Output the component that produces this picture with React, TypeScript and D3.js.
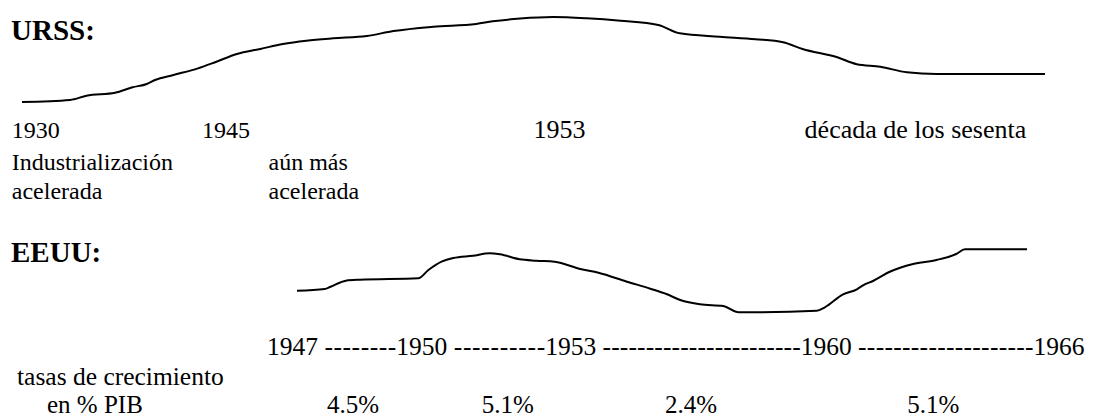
import * as d3 from "d3";
import React, { useEffect, useRef } from "react";

// URSS sketch: t = horizontal position along the period (0..100), v = growth level (0..100)
const urssT = [0, 4.7, 6.3, 9.1, 10.8, 12.2, 13.0, 14.8, 17.2, 19.0, 21.0, 23.3, 25.5, 27.8, 30.4, 33.7, 36.3, 40.2, 44.4, 46.0, 48.7, 51.9, 55.2, 58.5, 62.2, 64.3, 68.2, 71.7, 74.4, 76.3, 79.7, 81.6, 83.9, 86.5, 89.4, 100];
const urssV = [0, 2.4, 7.4, 10.9, 17.3, 21.2, 25.9, 31.8, 39.6, 47.4, 56.5, 62.4, 68.2, 72.1, 74.9, 77.6, 83.5, 88.6, 91.8, 94.9, 98.2, 100, 98.5, 95.6, 90.6, 80.8, 76.8, 73.8, 70.2, 62.4, 52.6, 44.4, 41.5, 34.9, 32.9, 32.9];

// EEUU sketch
const eeuuT = [0, 3.8, 4.6, 6.7, 8.6, 16.6, 18.0, 19.8, 21.4, 24.1, 26.4, 27.8, 30.5, 32.8, 35.3, 38.8, 41.3, 45.2, 48.4, 50.6, 52.5, 55.2, 58.4, 60.5, 71.2, 72.3, 74.8, 76.7, 77.6, 78.9, 81.2, 84.4, 87.6, 90.3, 91.5, 100];
const eeuuV = [34.3, 37.0, 40.6, 50.2, 51.7, 54.0, 67.1, 80.3, 86.2, 89.8, 93.7, 92.1, 84.1, 81.9, 80.3, 68.7, 62.9, 48.6, 37.5, 29.0, 19.5, 12.7, 10.0, 0, 2.5, 7.9, 28.6, 36.5, 43.3, 49.7, 64.4, 76.7, 83.0, 92.5, 100, 100];

// labels under the URSS curve (position in the same t units)
const urssLabels = ["1930", "1945", "1953", "década de los sesenta"];
const urssLabelT = [-1.0, 17.6, 50.0, 76.5];
const urssNotes = [["Industrialización", "acelerada"], ["aún más", "acelerada"]];
const urssNoteT = [-1.0, 24.1];

// EEUU time line and growth rates
const eeuuYears = ["1947", "1950", "1953", "1960", "1966"];
const eeuuYearT = [-4.1, 13.6, 34.0, 69.0, 100.9];
const eeuuDashes = [8, 10, 23, 20];
const growthRates = ["4.5%", "5.1%", "2.4%", "5.1%"];
const growthT = [4.1, 25.3, 50.4, 83.6];

const W = 1093;
const H = 419;
const FONT = "'Liberation Serif', 'Times New Roman', Times, serif";

const App: React.FC = () => {
    const svgRef = useRef<SVGSVGElement>(null);

    useEffect(() => {
        const svg = d3.select(svgRef.current);
        svg.selectAll("*").remove();

        const xU = d3.scaleLinear().domain([0, 100]).range([22, 1045]);
        const yU = d3.scaleLinear().domain([0, 100]).range([102, 17]);
        const xE = d3.scaleLinear().domain([0, 100]).range([297, 1027]);
        const yE = d3.scaleLinear().domain([0, 100]).range([312.3, 249.3]);

        const drawCurve = (ts: number[], vs: number[], x: any, y: any) => {
            const line = d3.line<number>()
                .x((_, i) => x(ts[i]))
                .y(v => y(v))
                .curve(d3.curveMonotoneX);
            svg.append("path")
                .attr("d", line(vs))
                .attr("fill", "none")
                .attr("stroke", "#000")
                .attr("stroke-width", 2)
                .attr("stroke-linejoin", "round");
        };

        const label = (txt: string, x: number, y: number, size: number, bold = false) =>
            svg.append("text")
                .attr("x", x)
                .attr("y", y)
                .attr("font-family", FONT)
                .attr("font-size", size)
                .attr("font-weight", bold ? "bold" : "normal")
                .attr("fill", "#000")
                .text(txt);

        // URSS
        label("URSS:", 11, 39.5, 29, true);
        drawCurve(urssT, urssV, xU, yU);
        urssLabels.forEach((l, i) => label(l, xU(urssLabelT[i]), 138, i < 2 ? 24 : 26));
        urssNotes.forEach((lines, i) => {
            lines.forEach((l, j) => label(l, xU(urssNoteT[i]), 170 + j * 29, 24));
        });

        // EEUU
        label("EEUU:", 11, 262, 29, true);
        drawCurve(eeuuT, eeuuV, xE, yE);

        eeuuYears.forEach((yr, i) => {
            const x0 = xE(eeuuYearT[i]);
            const t = label(yr + " ", x0, 355, 25.5).attr("xml:space", "preserve");
            if (i < eeuuYears.length - 1) {
                const w = (t.node() as SVGTextElement).getComputedTextLength();
                const x1 = xE(eeuuYearT[i + 1]);
                label("-".repeat(eeuuDashes[i]), x0 + w, 355, 25.5)
                    .attr("textLength", x1 - x0 - w)
                    .attr("lengthAdjust", "spacing");
            }
        });

        label("tasas de crecimiento", 17, 385, 25.5);
        label("en % PIB", 47, 413, 25);
        growthRates.forEach((g, i) => label(g, xE(growthT[i]), 413, 25));
    }, []);

    return (
        <div style={{ position: "absolute", left: 0, top: 0, background: "#fff" }}>
            <svg ref={svgRef} width={W} height={H} style={{ display: "block" }} />
        </div>
    );
};

export default App;
